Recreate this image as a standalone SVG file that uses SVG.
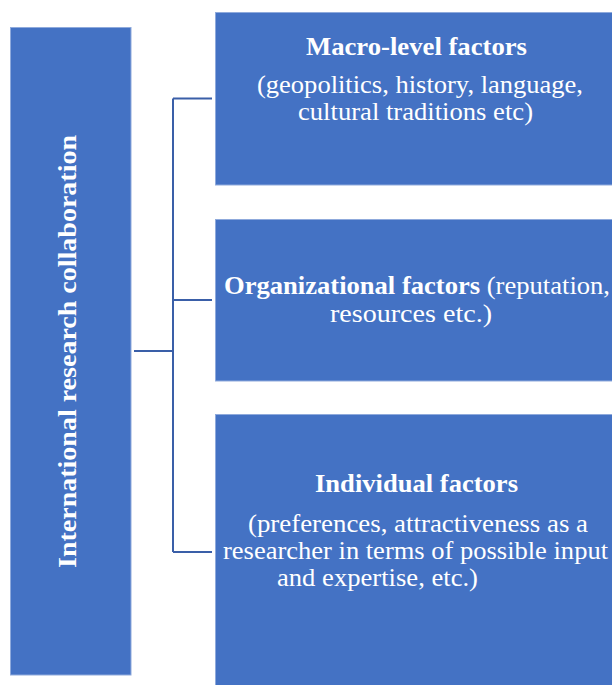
<svg xmlns="http://www.w3.org/2000/svg" width="612" height="685" viewBox="0 0 612 685">
<style>
.box{fill:#4472C4;stroke:#8FAADC;stroke-width:1}
.t{font-family:"Liberation Serif","Times New Roman",serif;fill:#ffffff;font-size:26px}
.b{font-weight:bold}
.conn{fill:none;stroke:#3A5FA8;stroke-width:2}
</style>
<rect width="612" height="685" fill="#ffffff"/>
<g id="connectors">
<path class="conn" d="M173 98.5V552M173 98.5H212M173 300H212M173 552H212M134 351H173"/>
</g>
<g id="main">
<rect class="box" x="10.5" y="27.5" width="120.5" height="647.5"/>
<text class="t b" transform="translate(76,568) rotate(-90)" x="0" y="0" textLength="433" lengthAdjust="spacingAndGlyphs">International research collaboration</text>
</g>
<g id="macro">
<rect class="box" x="215.5" y="12.5" width="400" height="172.5"/>
<text class="t b" x="306" y="55" textLength="221" lengthAdjust="spacingAndGlyphs">Macro-level factors</text>
<text class="t" x="257" y="93" textLength="326" lengthAdjust="spacingAndGlyphs">(geopolitics, history, language,</text>
<text class="t" x="298" y="120" textLength="235" lengthAdjust="spacingAndGlyphs">cultural traditions etc)</text>
</g>
<g id="org">
<rect class="box" x="215.5" y="219.5" width="400" height="161.5"/>
<text class="t" x="224" y="294" textLength="386" lengthAdjust="spacingAndGlyphs"><tspan class="b">Organizational factors</tspan> (reputation,</text>
<text class="t" x="330" y="321.5" textLength="162" lengthAdjust="spacingAndGlyphs">resources etc.)</text>
</g>
<g id="individual">
<rect class="box" x="215.5" y="414.5" width="400" height="280"/>
<text class="t b" x="315" y="491.5" textLength="203" lengthAdjust="spacingAndGlyphs">Individual factors</text>
<text class="t" x="248" y="531.5" textLength="340" lengthAdjust="spacingAndGlyphs">(preferences, attractiveness as a</text>
<text class="t" x="223" y="559" textLength="385" lengthAdjust="spacingAndGlyphs">researcher in terms of possible input</text>
<text class="t" x="277" y="585.5" textLength="201" lengthAdjust="spacingAndGlyphs">and expertise, etc.)</text>
</g>
</svg>
